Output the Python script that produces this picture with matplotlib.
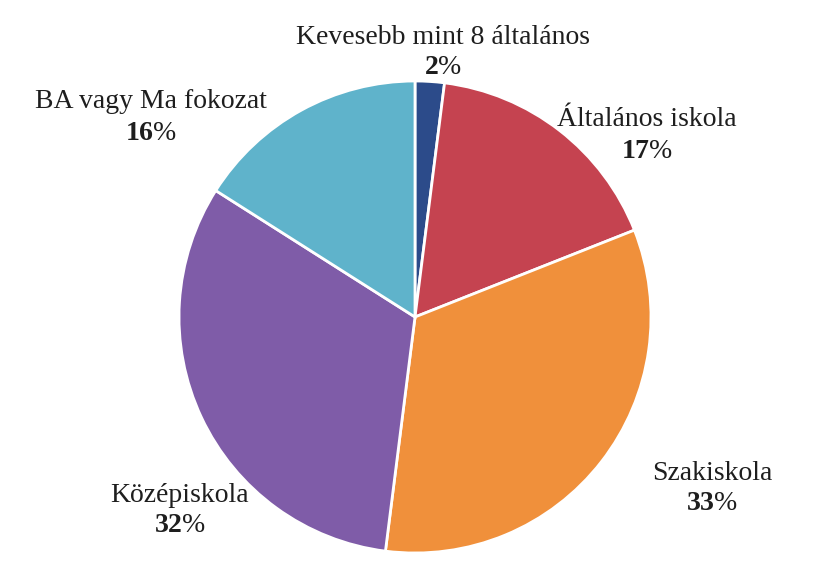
import matplotlib
matplotlib.use("Agg")
import matplotlib.pyplot as plt

categories = ["Kevesebb mint 8 általános", "Általános iskola", "Szakiskola",
              "Középiskola", "BA vagy Ma fokozat"]
values = [2, 17, 33, 32, 16]
colors = ["#2C4B8A", "#C54350", "#F0903B", "#7F5CA8", "#5FB3CB"]

plt.rcParams['font.family'] = ['Liberation Serif', 'DejaVu Serif']
plt.rcParams['mathtext.fontset'] = 'custom'
plt.rcParams['mathtext.rm'] = 'Liberation Serif'
plt.rcParams['mathtext.bf'] = 'Liberation Serif:bold'

W, H = 815, 567
cx, cy, r = 415, 317, 236

fig = plt.figure(figsize=(W / 100, H / 100), dpi=100)
ax = fig.add_axes([(cx - r) / W, (H - cy - r) / H, 2 * r / W, 2 * r / H])
ax.pie(values, colors=colors, startangle=90, counterclock=False, radius=1,
       wedgeprops=dict(edgecolor="white", linewidth=2))
ax.set_xlim(-1, 1)
ax.set_ylim(-1, 1)
ax.axis("off")

# label centres in pixels (name line, percent line)
label_px = [(443, 37, 67), (647, 120, 151), (712, 473, 503),
            (180, 496, 526), (151, 102, 133)]

for cat, val, (px, py1, py2) in zip(categories, values, label_px):
    x = (px - cx) / r
    ax.text(x, (cy - py1) / r, cat, ha="center", va="center",
            fontsize=20, color="#1e1e1e", clip_on=False)
    ax.text(x, (cy - py2) / r, r"$\mathbf{%d}$%%" % val, ha="center",
            va="center", fontsize=20, color="#1e1e1e", clip_on=False)

fig.savefig("out.png", dpi=100)
